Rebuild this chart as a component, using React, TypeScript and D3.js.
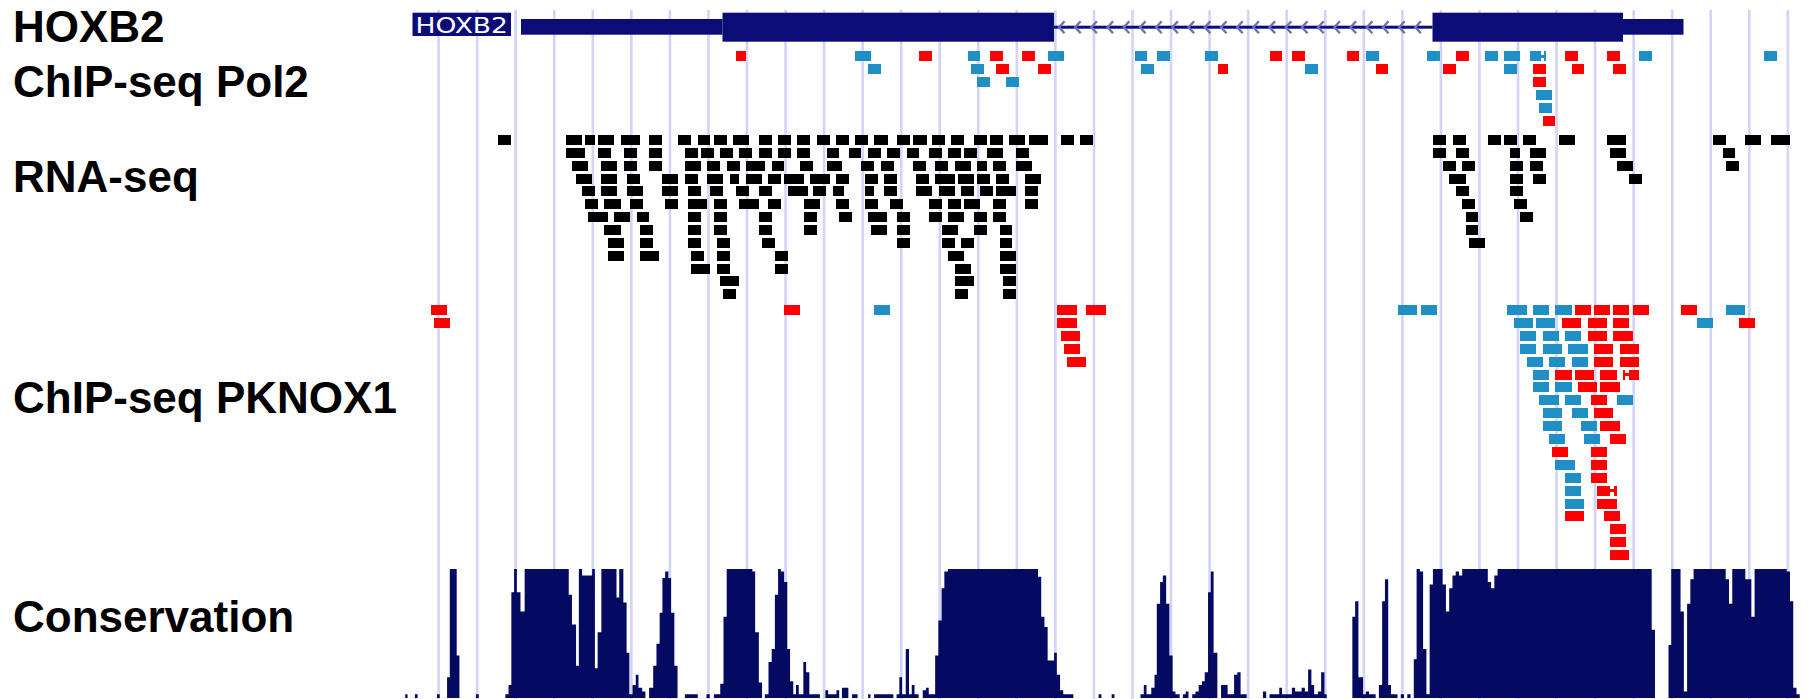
import React from "react";
import * as d3 from "d3";

const W = 1810;
const H = 699;

// genomic window, bp offsets from the left edge of the view
const VIEW: [number, number] = [0, 2814];
const GRID_START = 77.2;
const GRID_STEP = 77.1;
const GRID_COUNT = 36;

const trackLabels = ["HOXB2", "ChIP-seq Pol2", "RNA-seq", "ChIP-seq PKNOX1", "Conservation"];

// gene model (bp)
const geneName = "HOXB2";
const geneLabelSpan: [number, number] = [25, 222];
const geneUTR: [number, number][] = [[242, 645], [2446, 2567]];
const geneCDS: [number, number][] = [[645, 1308], [2065, 2446]];
const geneIntrons: [number, number][] = [[1308, 2065]];

// reads: [start, end, row, strand(1 = +, 0 = -), gapStart?, gapEnd?]
const pol2Reads: number[][] = [
  [671.8, 692.4, 0, 1], [909.8, 941.8, 0, 0], [1038.4, 1064.4, 0, 1], [1136.4, 1160, 0, 0], [1180, 1206, 0, 1],
  [1244.2, 1270.2, 0, 1], [1296.2, 1328.4, 0, 0], [1470, 1493.8, 0, 0], [1514.4, 1540.4, 0, 0], [1610.2, 1635.8, 0, 0],
  [1740, 1764.2, 0, 1], [1783.6, 1810, 0, 1], [1894, 1918.2, 0, 1], [1932.2, 1958, 0, 0], [2054.4, 2080, 0, 0],
  [2112, 2137.6, 0, 1], [2170.2, 2196, 0, 0], [2207.6, 2240.4, 0, 0], [2259.8, 2291.6, 0, 0, 2281.6, 2287],
  [2329.8, 2356.2, 0, 1], [2413.8, 2440.2, 0, 1], [2477.6, 2504, 0, 0], [2728, 2753.8, 0, 0],
  [935.8, 961.8, 1, 0], [1142.4, 1167.8, 1, 0], [1192.2, 1218.2, 1, 1], [1276.4, 1302.4, 1, 1], [1482.2, 1508.2, 1, 0],
  [1635.8, 1656, 1, 1], [1810, 1835.8, 1, 0], [1951.6, 1975.8, 1, 1], [2086.2, 2112, 1, 1], [2207.6, 2234, 1, 0],
  [2266, 2291.6, 1, 1], [2343.8, 2367.8, 1, 1], [2426.2, 2452, 1, 1],
  [1154, 1180, 2, 0], [1212, 1238, 2, 0], [2266, 2291.6, 2, 1],
  [2272.2, 2304, 3, 0],
  [2277.6, 2304, 4, 0],
  [2286.2, 2310.4, 5, 1],
];

// RNA-seq reads: [start, end, row]
const rnaReads: number[][] = [
  [195.6, 222.2, 0], [331.6, 364.8, 0], [369.8, 389.6, 0], [396.4, 427.8, 0], [442, 480, 0], [498.2, 524, 0], [556.4, 582, 0],
  [596.2, 620.2, 0], [627.6, 654.2, 0], [665.8, 698, 0], [718, 743.6, 0], [756.2, 781.8, 0], [794.2, 820, 0], [834, 859.8, 0],
  [872.2, 897.8, 0], [910.4, 936, 0], [948.4, 975, 0], [994, 1019.8, 0], [1026.4, 1053, 0], [1063.8, 1090.2, 0],
  [1101.8, 1128.4, 0], [1148.2, 1174, 0], [1179.8, 1206.4, 0], [1218, 1250.2, 0], [1257.8, 1295, 0], [1322, 1348, 0],
  [1360, 1386, 0], [2066, 2092, 0], [2106, 2132, 0], [2176, 2202, 0], [2208, 2234, 0], [2246, 2272, 0], [2318, 2350, 0],
  [2414, 2452, 0], [2626, 2652, 0], [2690, 2722, 0], [2742, 2780, 0],

  [331.6, 369.8, 1], [396.4, 422, 1], [447.8, 474.2, 1], [498.2, 524, 1], [570.4, 596.2, 1], [602, 627.6, 1], [640, 665.8, 1],
  [678.2, 703.8, 1], [718, 743.6, 1], [756.2, 781.8, 1], [794.2, 820, 1], [853.2, 878.8, 1], [897.8, 921.2, 1], [936, 961.8, 1],
  [974.2, 999.8, 1], [1013.2, 1038.8, 1], [1058, 1083.6, 1], [1096, 1121.8, 1], [1128.4, 1154, 1], [1174, 1206.4, 1],
  [1232, 1257.8, 1], [2066, 2092, 1], [2112, 2138, 1], [2220, 2240, 1], [2260, 2292, 1], [2420, 2452, 1], [2646, 2670, 1],

  [344, 376.4, 2], [402.2, 433.6, 2], [447.8, 474.2, 2], [498.2, 524, 2], [570.4, 602, 2], [614.4, 640, 2], [654.2, 679.8, 2],
  [692.2, 729.6, 2], [743.6, 767.8, 2], [800, 825.8, 2], [853.2, 884.6, 2], [922, 947.6, 2], [961.8, 988.2, 2],
  [1026.4, 1052.2, 2], [1070.4, 1096, 2], [1109.4, 1141.6, 2], [1154, 1174, 2], [1186.4, 1212.2, 2], [1232, 1263.6, 2],
  [2086, 2112, 2], [2124, 2150, 2], [2220, 2246, 2], [2260, 2286, 2], [2434, 2466, 2], [2652, 2678, 2],

  [352.4, 383.8, 3], [402.2, 433.6, 3], [454.4, 480, 3], [524, 556.4, 3], [570.4, 596.2, 3], [614.4, 646.6, 3], [660, 678.2, 3],
  [692.2, 723.8, 3], [736.2, 762, 3], [768.6, 808.4, 3], [820, 859, 3], [872.2, 897.8, 3], [930.2, 956, 3], [968.4, 994, 3],
  [1032.2, 1058, 3], [1070.4, 1109.4, 3], [1116, 1147.4, 3], [1154, 1179.8, 3], [1192.2, 1218, 3], [1250.2, 1281.8, 3],
  [2098, 2132, 3], [2220, 2246, 3], [2266, 2292, 3], [2458, 2484, 3],

  [364, 389.6, 4], [402.2, 433.6, 4], [454.4, 485.8, 4], [524, 556.4, 4], [576.2, 602, 4], [620.2, 646.6, 4], [672.4, 698, 4],
  [718, 743.6, 4], [776, 815, 4], [825.8, 851.4, 4], [866.4, 888.8, 4], [930.2, 947.6, 4], [968.4, 994, 4], [1032.2, 1063.8, 4],
  [1077.8, 1109.4, 4], [1121.8, 1147.4, 4], [1159.8, 1185.6, 4], [1192.2, 1232, 4], [1250.2, 1276, 4], [2112, 2138, 4],
  [2220, 2246, 4],

  [369.8, 396.4, 5], [408, 442, 5], [460.2, 485.8, 5], [529.8, 556.4, 5], [576.2, 614.4, 5], [627.6, 654.2, 5], [678.2, 718, 5],
  [736.2, 762, 5], [808.4, 840.6, 5], [872.2, 897.8, 5], [930.2, 956, 5], [980, 1006.6, 5], [1058, 1083.6, 5], [1096, 1121.8, 5],
  [1128.4, 1159.8, 5], [1186.4, 1212.2, 5], [1250.2, 1276, 5], [2124, 2150, 5], [2228, 2254, 5],

  [376.4, 416.2, 6], [427.8, 460.2, 6], [474.2, 498.2, 6], [576.2, 602, 6], [627.6, 654.2, 6], [718, 743.6, 6], [808.4, 834, 6],
  [878, 903.6, 6], [936, 974.2, 6], [994, 1019.8, 6], [1058, 1083.6, 6], [1096, 1128.4, 6], [1148.2, 1174, 6], [1186.4, 1212.2, 6],
  [2132, 2156, 6], [2240, 2266, 6],

  [408, 442, 7], [480, 505.8, 7], [576.2, 602, 7], [627.6, 654.2, 7], [718, 743.6, 7], [808.4, 834, 7], [941.8, 974.2, 7],
  [994, 1019.8, 7], [1083.6, 1116, 7], [1148.2, 1174, 7], [1199.6, 1223.6, 7], [2132, 2156, 7],

  [416.2, 447.8, 8], [480, 505.8, 8], [576.2, 602, 8], [634.2, 660, 8], [723.8, 750.4, 8], [994, 1019.8, 8], [1083.6, 1109.4, 8],
  [1121.8, 1148.2, 8], [1199.6, 1223.6, 8], [2138, 2170, 8],

  [416.2, 447.8, 9], [480, 518.2, 9], [582.8, 607.8, 9], [634.2, 660, 9], [750.4, 776, 9], [1096, 1128.4, 9], [1199.6, 1232, 9],

  [582.8, 620.2, 10], [634.2, 660, 10], [750.4, 776, 10], [1109.4, 1141.6, 10], [1199.6, 1232, 10],

  [640, 678.2, 11], [1109.4, 1148.2, 11], [1206.4, 1232, 11],

  [646.6, 672.4, 12], [1109.4, 1135.8, 12], [1206.4, 1232, 12],
];

// ChIP-seq PKNOX1 reads: [start, end, row, strand, gapStart?, gapEnd?]
const pknoxReads: number[][] = [
  [61.6, 93.8, 0, 1], [767.8, 800, 0, 1], [948.2, 980.4, 0, 0], [1314.2, 1353.6, 0, 1], [1372, 1412, 0, 1],
  [1996, 2034, 0, 0], [2042, 2074, 0, 0], [2214, 2254, 0, 0], [2266, 2298, 0, 0], [2310, 2344, 0, 0], [2350, 2382, 0, 1],
  [2388, 2420, 0, 1], [2426, 2458, 0, 1], [2466, 2498, 0, 1], [2562, 2594, 0, 1], [2652, 2690, 0, 0],

  [67.8, 100, 1, 1], [1314.2, 1353.6, 1, 1], [2228, 2266, 1, 0], [2272, 2310, 1, 0], [2324, 2362, 1, 1], [2376, 2414, 1, 1],
  [2426, 2458, 1, 1], [2594, 2626, 1, 0], [2678, 2710, 1, 1],

  [1322.2, 1359.8, 2, 1], [2240, 2272, 2, 0], [2286, 2318, 2, 0], [2330, 2362, 2, 0], [2376, 2414, 2, 1], [2426, 2466, 2, 1],

  [1327.6, 1359.8, 3, 1], [2240, 2272, 3, 0], [2286, 2324, 3, 0], [2336, 2376, 3, 0], [2388, 2426, 3, 1], [2440, 2478, 3, 1],

  [1333.8, 1372.2, 4, 1], [2254, 2286, 4, 0], [2298, 2330, 4, 0], [2344, 2376, 4, 0], [2388, 2426, 4, 1], [2440, 2478, 4, 1],

  [2266, 2298, 5, 0], [2310, 2344, 5, 1], [2350, 2388, 5, 1], [2400, 2434, 5, 1], [2446, 2478, 5, 1, 2450, 2457],

  [2266, 2298, 6, 0], [2310, 2344, 6, 0], [2356, 2394, 6, 1], [2400, 2440, 6, 1],

  [2278, 2318, 7, 0], [2330, 2362, 7, 0], [2382, 2414, 7, 1], [2434, 2466, 7, 0],

  [2286, 2324, 8, 0], [2344, 2376, 8, 0], [2388, 2426, 8, 1],

  [2286, 2324, 9, 0], [2362, 2394, 9, 0], [2400, 2440, 9, 1],

  [2298, 2330, 10, 0], [2368, 2400, 10, 0], [2420, 2452, 10, 1],

  [2304, 2336, 11, 1], [2382, 2414, 11, 1],

  [2310, 2350, 12, 0], [2382, 2414, 12, 1],

  [2330, 2362, 13, 0], [2382, 2414, 13, 1],

  [2330, 2362, 14, 0], [2394, 2434, 14, 1, 2420, 2428],

  [2330, 2368, 15, 0], [2394, 2434, 15, 1],

  [2330, 2368, 16, 1], [2408, 2440, 16, 1],

  [2420, 2452, 17, 1],
  [2420, 2452, 18, 1],
  [2420, 2458, 19, 1],
];

// conservation: [start, end, score 0..1]
const conservation: number[][] = [
  [10.5, 15.1, 0.03], [29.8, 35.3, 0.03], [73.9, 79.4, 0.03], [94.1, 99.6, 0.16], [99.6, 113.4, 1], [113.4, 118.9, 0.33],
  [151.9, 157.5, 0.03], [210.7, 217.1, 0.03], [217.1, 222.7, 0.1], [222.7, 228.2, 0.82], [228.2, 233.7, 1], [233.7, 241, 0.82],
  [241, 249.3, 0.67], [249.3, 337.5, 1], [337.5, 343.9, 0.8], [343.9, 352.1, 0.57], [352.1, 357.7, 0.25], [357.7, 364.1, 1],
  [364.1, 384.3, 0.95], [384.3, 389.8, 1], [389.8, 395.3, 0.23], [395.3, 402.7, 0.51], [402.7, 433, 1], [433, 438.5, 0.78],
  [438.5, 446.7, 1], [446.7, 453.2, 0.74], [453.2, 458.7, 0.35], [458.7, 465.1, 0.03], [465.1, 471.5, 0.1], [471.5, 477, 0.18],
  [477, 484.4, 0.08], [484.4, 490.8, 0.05], [498.2, 506.4, 0.08], [506.4, 512.9, 0.25], [512.9, 519.3, 0.42],
  [519.3, 524.8, 0.66], [524.8, 530.3, 0.93], [530.3, 536.7, 0.98], [536.7, 542.2, 0.93], [542.2, 548.7, 0.66],
  [548.7, 555.1, 0.25], [569.8, 595.5, 0.03], [613, 619.4, 0.03], [627.7, 640.5, 0.03], [640.5, 647, 0.11], [647, 653.4, 0.63],
  [653.4, 704.8, 1], [704.8, 710.3, 0.98], [710.3, 717.7, 0.51], [717.7, 724.1, 0.12], [729.6, 737, 0.03], [737, 743.4, 0.28],
  [743.4, 749.8, 0.38], [749.8, 756.2, 0.8], [756.2, 761.7, 1], [761.7, 768.2, 0.98], [768.2, 774.6, 0.9], [774.6, 780.1, 0.38],
  [780.1, 786.5, 0.13], [786.5, 792, 0.03], [792, 797.5, 0.1], [797.5, 806.7, 0.03], [806.7, 812.2, 0.28], [812.2, 818.7, 0.2],
  [818.7, 839.8, 0.03], [850.8, 856.3, 0.06], [856.3, 872.9, 0.03], [872.9, 878.4, 0.06], [883.9, 896.7, 0.08],
  [904.1, 915.1, 0.03], [936.3, 940.9, 0.03], [948.2, 986.7, 0.03], [993.2, 998.7, 0.03], [998.7, 1004.2, 0.16],
  [1004.2, 1011.5, 0.03], [1011.5, 1018, 0.38], [1018, 1023.5, 0.03], [1023.5, 1029, 0.1], [1029, 1037.3, 0.03],
  [1045.5, 1052, 0.06], [1052, 1057.5, 0.08], [1057.5, 1070.3, 0.03], [1070.3, 1076.7, 0.33], [1076.7, 1083.2, 0.6],
  [1083.2, 1088.7, 0.85], [1088.7, 1096, 0.98], [1096, 1276, 1], [1276, 1282.4, 0.94], [1282.4, 1288.9, 0.63],
  [1288.9, 1295.3, 0.55], [1295.3, 1308.2, 0.29], [1308.2, 1313.7, 0.35], [1313.7, 1320.1, 0.18], [1320.1, 1326.5, 0.06],
  [1326.5, 1346.7, 0.03], [1397.2, 1402.8, 0.03], [1423.3, 1428.9, 0.03], [1481, 1487.6, 0.03], [1487.6, 1493.1, 0.1],
  [1493.1, 1502.5, 0.03], [1502.5, 1509, 0.08], [1509, 1513.6, 0.18], [1513.6, 1520.2, 0.73], [1520.2, 1525.7, 0.9],
  [1525.7, 1532.3, 0.95], [1532.3, 1538.8, 0.73], [1538.8, 1545.3, 0.33], [1545.3, 1550.9, 0.05], [1550.9, 1559.3, 0.03],
  [1565.8, 1571.4, 0.03], [1571.4, 1577, 0.05], [1584.4, 1590.9, 0.03], [1590.9, 1597.4, 0.05], [1597.4, 1604, 0.1],
  [1604, 1609.5, 0.13], [1609.5, 1616.1, 0.2], [1616.1, 1621.6, 0.82], [1621.6, 1627.2, 0.98], [1627.2, 1634.7, 0.35],
  [1642.1, 1655.2, 0.1], [1655.2, 1668.2, 0.03], [1668.2, 1674.7, 0.18], [1674.7, 1681.2, 0.2], [1681.2, 1693.3, 0.03],
  [1725.9, 1732.4, 0.05], [1739, 1758.5, 0.03], [1758.5, 1764.1, 0.08], [1764.1, 1783.7, 0.03], [1783.7, 1790.2, 0.08],
  [1790.2, 1803.2, 0.05], [1803.2, 1809.7, 0.08], [1809.7, 1816.2, 0.05], [1816.2, 1822.8, 0.22], [1822.8, 1828.3, 0.1],
  [1828.3, 1835.8, 0.03], [1835.8, 1842.3, 0.05], [1842.3, 1848.8, 0.2], [1848.8, 1853.5, 0.03], [1904.7, 1910.3, 0.63],
  [1910.3, 1916.8, 0.75], [1916.8, 1926.1, 0.16], [1926.1, 1931.7, 0.03], [1931.7, 1938.2, 0.05], [1938.2, 1951.3, 0.03],
  [1957.8, 1964.3, 0.1], [1964.3, 1969.9, 0.75], [1969.9, 1976.4, 0.92], [1976.4, 1982, 0.1], [1982, 1995, 0.03],
  [2001.5, 2008.1, 0.03], [2014.6, 2021.1, 0.03], [2027.6, 2033.2, 0.3], [2033.2, 2039.7, 1], [2039.7, 2046.2, 0.98],
  [2046.2, 2052.8, 0.38], [2052.8, 2059.3, 0.03], [2059.3, 2065.8, 0.88], [2065.8, 2085.3, 1], [2085.3, 2091.9, 0.88],
  [2091.9, 2098.4, 0.67], [2098.4, 2104.9, 0.85], [2104.9, 2111.4, 0.95], [2111.4, 2117.9, 0.98], [2117.9, 2124.4, 0.95],
  [2124.4, 2175.6, 1], [2175.6, 2182.2, 0.9], [2182.2, 2188.7, 0.85], [2188.7, 2195.2, 0.95], [2195.2, 2503.4, 1],
  [2503.4, 2510, 0.53], [2537, 2542.5, 0.41], [2542.5, 2561.1, 1], [2561.1, 2567.7, 0.67], [2567.7, 2574.2, 0.05],
  [2574.2, 2580.7, 0.73], [2580.7, 2587.2, 0.92], [2587.2, 2651.4, 1], [2651.4, 2658, 0.92], [2658, 2664.5, 0.73],
  [2664.5, 2690.6, 1], [2690.6, 2702.7, 0.92], [2702.7, 2709.2, 0.63], [2709.2, 2773.4, 1], [2773.4, 2780, 0.98],
  [2780, 2786.5, 0.75], [2786.5, 2793, 0.08], [2793, 2799.5, 0.03],
];

const COLORS = {
  grid: "#d3d3fa",
  gene: "#0c0c78",
  chevron: "#7070b6",
  plus: "#ff0000",
  minus: "#1f8fc5",
  rna: "#000000",
  cons: "#040a62",
  label: "#000000",
};

const LAYOUT = {
  left: 400,
  right: 1807,
  gridTop: 10,
  cdsTop: 12.7, cdsH: 29,
  utrTop: 19, utrH: 15.7,
  intronTop: 25.7, intronH: 3,
  nameTop: 12.7, nameH: 23.3,
  readH: 10,
  pol2Top: 51, pol2Pitch: 12.9,
  rnaTop: 135, rnaPitch: 12.85,
  pknoxTop: 305, pknoxPitch: 12.9,
  consBase: 698, consTop: 569,
  labelX: 13,
  labelBaselines: [41.7, 96.7, 191.7, 412.7, 631.7],
};

function ReadTrack({ reads, x, top, pitch, colorOf }: any) {
  const y = d3.scaleLinear().domain([0, 1]).range([top, top + pitch]);
  return (
    <g shapeRendering="crispEdges">
      {reads.map((r: number[], i: number) => {
        const [s, e, row] = r;
        const fill = colorOf(r);
        const yy = y(row);
        if (r.length > 4) {
          const gs = r[4];
          const ge = r[5];
          return (
            <g key={i} fill={fill}>
              <rect x={x(s)} y={yy} width={x(gs) - x(s)} height={LAYOUT.readH} />
              <rect x={x(gs)} y={yy + LAYOUT.readH / 2 - 1.5} width={x(ge) - x(gs)} height={3} />
              <rect x={x(ge)} y={yy} width={x(e) - x(ge)} height={LAYOUT.readH} />
            </g>
          );
        }
        return <rect key={i} x={x(s)} y={yy} width={x(e) - x(s)} height={LAYOUT.readH} fill={fill} />;
      })}
    </g>
  );
}

export default function App() {
  const x = d3.scaleLinear().domain(VIEW).range([LAYOUT.left, LAYOUT.right]);
  const consY = d3.scaleLinear().domain([0, 1]).range([LAYOUT.consBase, LAYOUT.consTop]);
  const grid = d3.range(GRID_COUNT).map((k) => GRID_START + k * GRID_STEP);
  const strandColor = (r: number[]) => (r[3] === 1 ? COLORS.plus : COLORS.minus);

  const intronMid = LAYOUT.intronTop + LAYOUT.intronH / 2;
  const chevrons: number[] = [];
  geneIntrons.forEach(([s, e]) => {
    d3.range(x(s) + 5, x(e) - 3, 16.2).forEach((px) => chevrons.push(px));
  });

  // conservation: contiguous bins are joined into one stepped outline (no seams)
  const consPath = (() => {
    const p = d3.path();
    let i = 0;
    while (i < conservation.length) {
      let j = i;
      while (j + 1 < conservation.length && conservation[j + 1][0] - conservation[j][1] < 0.6) j++;
      p.moveTo(x(conservation[i][0]), LAYOUT.consBase);
      for (let k = i; k <= j; k++) {
        const [s, e, v] = conservation[k];
        p.lineTo(x(s), consY(v));
        p.lineTo(x(e), consY(v));
      }
      p.lineTo(x(conservation[j][1]), LAYOUT.consBase);
      p.closePath();
      i = j + 1;
    }
    return p.toString();
  })();

  return (
    <div style={{ position: "absolute", left: 0, top: 0 }}>
      <svg width={W} height={H} style={{ display: "block", background: "#ffffff" }}>
        <rect x={0} y={0} width={W} height={H} fill="#ffffff" />
        {/* guide lines */}
        <g>
          {grid.map((g, i) => (
            <line key={i} x1={x(g)} x2={x(g)} y1={LAYOUT.gridTop} y2={H} stroke={COLORS.grid} strokeWidth={2.6} />
          ))}
        </g>

        {/* track labels */}
        <g fontFamily="'Liberation Sans', Arial, Helvetica, sans-serif" fontWeight="bold" fontSize={44} fill={COLORS.label}>
          {trackLabels.map((t, i) => (
            <text key={t} x={LAYOUT.labelX} y={LAYOUT.labelBaselines[i]}>{t}</text>
          ))}
        </g>

        {/* gene model */}
        <g fill={COLORS.gene}>
          <rect x={x(geneLabelSpan[0])} y={LAYOUT.nameTop} width={x(geneLabelSpan[1]) - x(geneLabelSpan[0])} height={LAYOUT.nameH} />
          <text
            x={x(geneLabelSpan[0]) + 3}
            y={LAYOUT.nameTop + LAYOUT.nameH - 3.5}
            fill="#ffffff"
            fontFamily="'DejaVu Sans', sans-serif"
            fontSize={22}
            textLength={x(geneLabelSpan[1]) - x(geneLabelSpan[0]) - 6}
            lengthAdjust="spacingAndGlyphs"
          >
            {geneName}
          </text>
          {geneIntrons.map(([s, e], i) => (
            <rect key={"in" + i} x={x(s)} y={LAYOUT.intronTop} width={x(e) - x(s)} height={LAYOUT.intronH} />
          ))}
          {geneUTR.map(([s, e], i) => (
            <rect key={"u" + i} x={x(s)} y={LAYOUT.utrTop} width={x(e) - x(s)} height={LAYOUT.utrH} />
          ))}
          {geneCDS.map(([s, e], i) => (
            <rect key={"c" + i} x={x(s)} y={LAYOUT.cdsTop} width={x(e) - x(s)} height={LAYOUT.cdsH} />
          ))}
        </g>
        <g fill="none" stroke={COLORS.chevron} strokeWidth={2.4}>
          {chevrons.map((px, i) => (
            <path key={i} d={`M${px + 5.5},${intronMid - 6} L${px},${intronMid} L${px + 5.5},${intronMid + 6}`} />
          ))}
        </g>

        {/* ChIP-seq Pol2 */}
        <ReadTrack reads={pol2Reads} x={x} top={LAYOUT.pol2Top} pitch={LAYOUT.pol2Pitch} colorOf={strandColor} />

        {/* RNA-seq */}
        <ReadTrack reads={rnaReads} x={x} top={LAYOUT.rnaTop} pitch={LAYOUT.rnaPitch} colorOf={() => COLORS.rna} />

        {/* ChIP-seq PKNOX1 */}
        <ReadTrack reads={pknoxReads} x={x} top={LAYOUT.pknoxTop} pitch={LAYOUT.pknoxPitch} colorOf={strandColor} />

        {/* Conservation */}
        <path d={consPath} fill={COLORS.cons} />
      </svg>
    </div>
  );
}
